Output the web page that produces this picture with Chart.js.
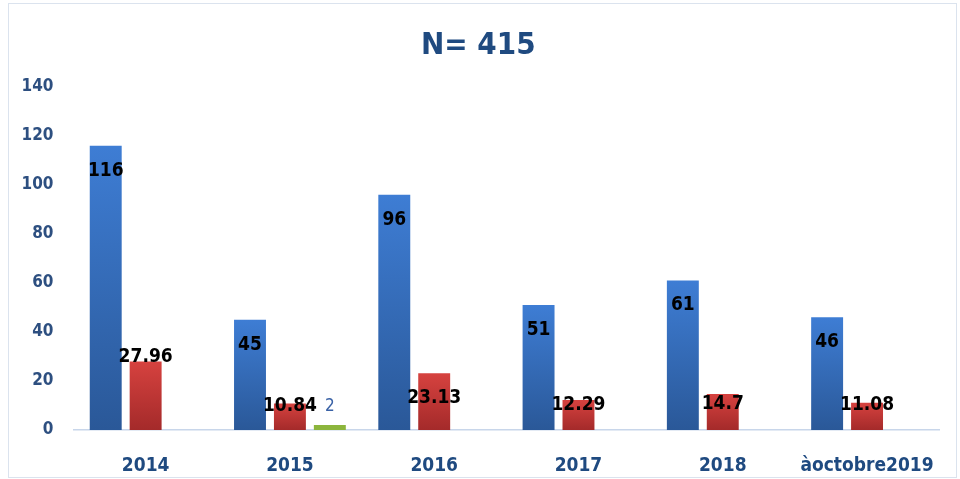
<!DOCTYPE html>
<html>
<head>
<meta charset="utf-8">
<script src="https://cdn.jsdelivr.net/npm/chart.js@4"></script>
<style>
    html, body { margin: 0; padding: 0; background: #fff; }
    #wrap { position: relative; width: 960px; height: 479px; }
    #frame { position: absolute; left: 8px; top: 3px; width: 947px; height: 473px; border: 1px solid #dbe3ee; }
    canvas { position: absolute; left: 0; top: 0; }
</style>
</head>
<body>
<div id="wrap">
    <div id="frame"></div>
    <canvas id="chart" width="960" height="479"></canvas>
</div>
<script>
const FONT = "'DejaVu Sans Condensed', 'DejaVu Sans', sans-serif";

const years = ['2014', '2015', '2016', '2017', '2018', 'àoctobre2019'];
const seriesBlue = [116, 45, 96, 51, 61, 46];
const seriesRed = [27.96, 10.84, 23.13, 12.29, 14.7, 11.08];
const seriesGreen = [null, 2, null, null, null, null];
const yTicks = [0, 20, 40, 60, 80, 100, 120, 140];

// per-bar vertical gradient, light at the top, dark at the base
function barGradient(light, dark) {
    return ctx => {
        const chart = ctx.chart;
        if (!chart.chartArea || ctx.raw == null) return dark;
        const y = chart.scales.y;
        const top = y.getPixelForValue(ctx.raw);
        const base = y.getPixelForValue(0);
        const g = chart.ctx.createLinearGradient(0, top, 0, base);
        g.addColorStop(0, light);
        g.addColorStop(1, dark);
        return g;
    };
}

const barLabels = {
    id: 'barLabels',
    afterDatasetsDraw(chart, args, opts) {
        const ctx = chart.ctx;
        chart.data.datasets.forEach((ds, i) => {
            const meta = chart.getDatasetMeta(i);
            const st = opts.styles[i];
            meta.data.forEach((bar, j) => {
                const v = ds.data[j];
                if (v == null) return;
                const nudge = st.nudge ? st.nudge[j] : st.dy;
                ctx.save();
                ctx.font = st.font;
                ctx.fillStyle = st.color;
                ctx.textAlign = 'center';
                ctx.textBaseline = 'middle';
                ctx.fillText(String(v), bar.x, bar.y + nudge);
                ctx.restore();
            });
        });
    }
};

new Chart(document.getElementById('chart'), {
    type: 'bar',
    data: {
        labels: years,
        datasets: [
            { data: seriesBlue, backgroundColor: barGradient('#3e7dd4', '#2a5898') },
            { data: seriesRed, backgroundColor: barGradient('#d6423f', '#a42a2a') },
            { data: seriesGreen, backgroundColor: '#8cb53c' }
        ]
    },
    options: {
        responsive: false,
        animation: false,
        categoryPercentage: 0.83,
        barPercentage: 0.8,
        layout: { padding: { left: 13, right: 16.5, top: 0, bottom: 0 } },
        plugins: {
            legend: { display: false },
            tooltip: { enabled: false },
            title: {
                display: true,
                text: 'N= 415',
                color: '#1f4a80',
                font: { family: FONT, size: 31, weight: 'bold' },
                padding: { top: 27, bottom: 22.8 }
            },
            barLabels: {
                styles: [
                    { font: 'bold 19px ' + FONT, color: '#000', dy: 25 },
                    { font: 'bold 19px ' + FONT, color: '#000', nudge: [-4, 3, 25, 5, 10, 2] },
                    { font: '17px ' + FONT, color: '#3a62a6', dy: -19 }
                ]
            }
        },
        scales: {
            x: {
                grid: { display: false, drawTicks: false },
                border: { display: true, color: '#c8d6ea', width: 1.5 },
                ticks: {
                    color: '#1f4a80',
                    padding: 25,
                    maxRotation: 0,
                    font: { family: FONT, size: 19, weight: 'bold' }
                },
                afterFit: s => { s.height = 49; }
            },
            y: {
                min: 0,
                max: 140,
                grid: { display: false, drawTicks: false },
                border: { display: false },
                afterBuildTicks: s => { s.ticks = yTicks.map(v => ({ value: v })); },
                ticks: {
                    color: '#2d4f80',
                    padding: 20,
                    font: { family: FONT, size: 17, weight: 'bold' }
                },
                afterFit: s => { s.width = 60.5; }
            }
        }
    },
    plugins: [barLabels]
});
</script>
</body>
</html>
